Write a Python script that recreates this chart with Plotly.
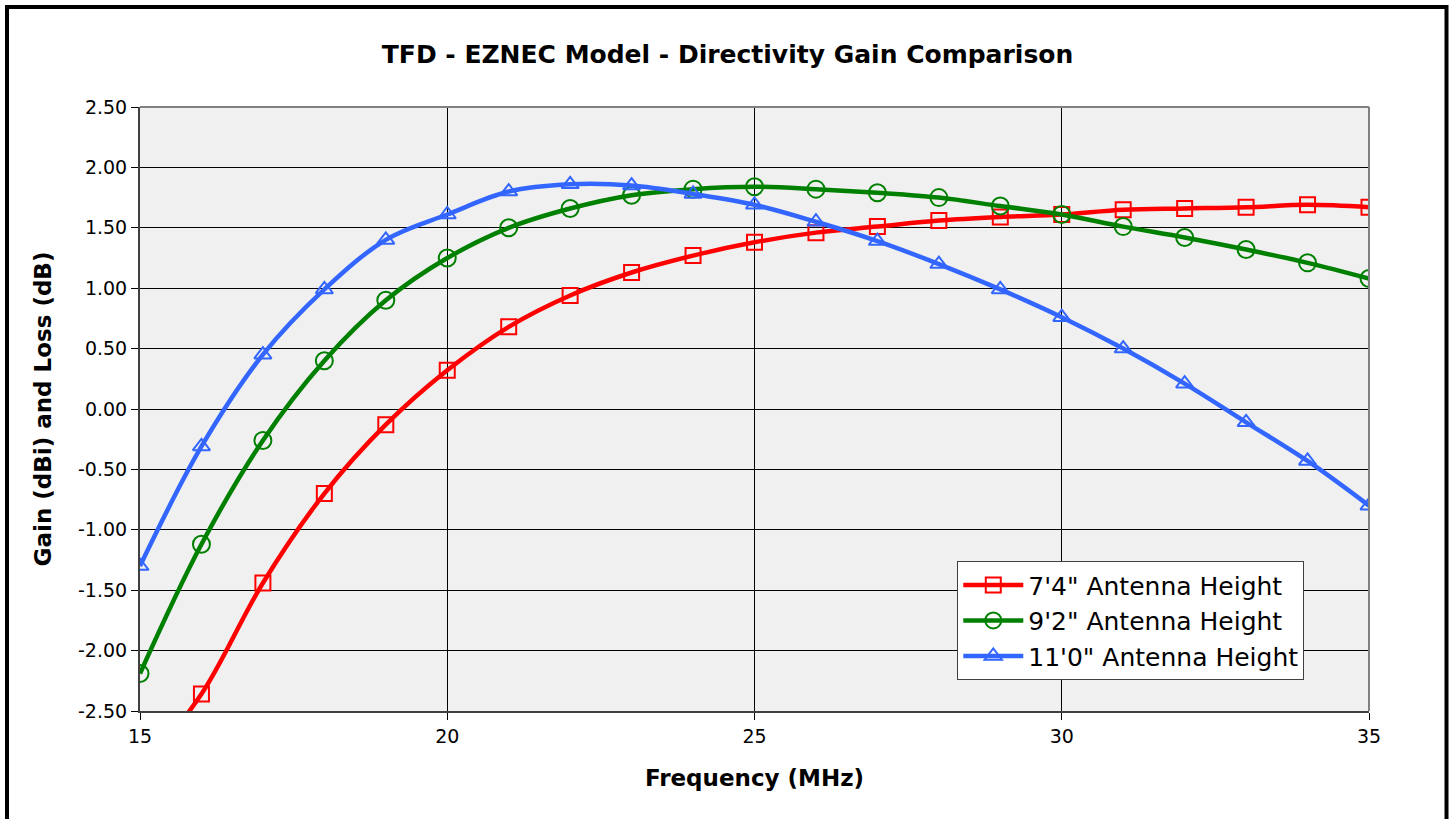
import plotly.graph_objects as go

freq = list(range(15, 36))
red_74 = [-3.00, -2.36, -1.44, -0.70, -0.13, 0.32, 0.68, 0.94, 1.13, 1.27, 1.38,
          1.46, 1.51, 1.56, 1.59, 1.61, 1.65, 1.66, 1.67, 1.69, 1.67]
green_92 = [-2.19, -1.12, -0.26, 0.40, 0.90, 1.25, 1.50, 1.66, 1.77, 1.82, 1.84,
            1.82, 1.79, 1.75, 1.68, 1.61, 1.51, 1.42, 1.32, 1.21, 1.08]
blue_110 = [-1.30, -0.31, 0.45, 0.99, 1.40, 1.61, 1.80, 1.86, 1.85, 1.78, 1.69,
            1.55, 1.39, 1.20, 0.99, 0.76, 0.50, 0.21, -0.11, -0.43, -0.80]

series_names = ["7'4\" Antenna Height", "9'2\" Antenna Height", "11'0\" Antenna Height"]
series_values = [red_74, green_92, blue_110]
colors = ["#FF0000", "#008000", "#3366FF"]
symbols = ["square-open", "circle-open", "triangle-up-open"]
sizes = [15, 17, 15]

y_ticks = [2.5, 2.0, 1.5, 1.0, 0.5, 0.0, -0.5, -1.0, -1.5, -2.0, -2.5]
y_labels = ["2.50", "2.00", "1.50", "1.00", "0.50", "0.00", "-0.50", "-1.00", "-1.50", "-2.00", "-2.50"]
x_ticks = [15, 20, 25, 30, 35]
x_labels = ["15", "20", "25", "30", "35"]

FONT = "DejaVu Sans"

fig = go.Figure()
for name, vals, c, s, sz in zip(series_names, series_values, colors, symbols, sizes):
    fig.add_trace(go.Scatter(
        x=freq, y=vals, name=name, mode="lines+markers",
        line=dict(color=c, width=4.5, shape="spline", smoothing=1.0),
        marker=dict(symbol=s, size=sz, color=c, line=dict(color=c, width=2)),
    ))

fig.update_layout(
    width=1455, height=819,
    margin=dict(l=140, r=86, t=107, b=108),
    paper_bgcolor="white",
    plot_bgcolor="#F0F0F0",
    font=dict(family=FONT, color="black"),
    title=dict(text="<b>TFD - EZNEC Model - Directivity Gain Comparison</b>",
               x=0.5, xanchor="center", y=0.934, yanchor="middle",
               font=dict(size=25, family=FONT, color="black")),
    xaxis=dict(range=[15, 35], tickvals=x_ticks, ticktext=x_labels,
               showgrid=True, gridcolor="black", gridwidth=1,
               ticks="outside", ticklen=7, tickcolor="black",
               showline=True, linecolor="#404040", linewidth=2, mirror=False,
               zeroline=False, tickfont=dict(size=19),
               title=dict(text="<b>Frequency (MHz)</b>", font=dict(size=23), standoff=24)),
    yaxis=dict(range=[-2.5, 2.5], tickvals=y_ticks, ticktext=y_labels,
               showgrid=True, gridcolor="black", gridwidth=1,
               ticks="outside", ticklen=7, tickcolor="black",
               showline=True, linecolor="#404040", linewidth=2,
               zeroline=False, tickfont=dict(size=19),
               title=dict(text="<b>Gain (dBi) and Loss (dB)</b>", font=dict(size=23), standoff=20)),
    legend=dict(x=0.665, y=0.248, xanchor="left", yanchor="top",
                bgcolor="white", bordercolor="#404040", borderwidth=1,
                font=dict(size=25, family=FONT), itemwidth=60,
                tracegroupgap=0),
    showlegend=True,
)

# gray top/right plot border
fig.add_shape(type="line", xref="paper", yref="paper", x0=0, x1=1, y0=1, y1=1,
              line=dict(color="#808080", width=2), layer="above")
fig.add_shape(type="line", xref="paper", yref="paper", x0=1, x1=1, y0=0, y1=1,
              line=dict(color="#808080", width=2), layer="above")
# outer chart frame
fig.add_shape(type="rect", xref="paper", yref="paper",
              x0=(7 - 140) / 1229, x1=(1446.5 - 140) / 1229,
              y0=(711 - 840) / 604, y1=(711 - 7) / 604,
              line=dict(color="black", width=4), layer="above")

fig.write_html("out.html", config={"displayModeBar": False},
               post_script="document.body.style.margin='0';")
